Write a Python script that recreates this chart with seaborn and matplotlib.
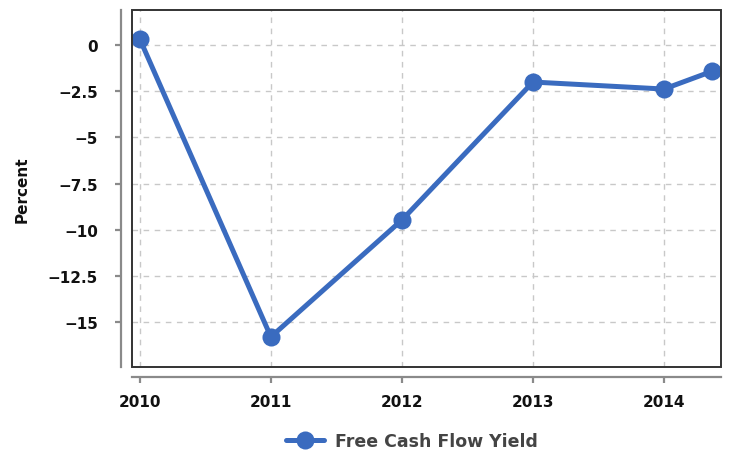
import matplotlib
matplotlib.use("Agg")
import matplotlib.pyplot as plt
import seaborn as sns
import pandas as pd
from matplotlib.patches import Rectangle
from matplotlib.lines import Line2D

years = [2010.0, 2011.0, 2012.0, 2013.0, 2014.0, 2014.37]
fcf_yield = [0.32, -15.8, -9.47, -2.0, -2.38, -1.41]
x_ticks = [2010, 2011, 2012, 2013, 2014]
y_ticks = [0, -2.5, -5, -7.5, -10, -12.5, -15]
y_tick_labels = ["0", "\u22122.5", "\u22125", "\u22127.5", "\u221210", "\u221212.5", "\u221215"]
series_name = "Free Cash Flow Yield"

df = pd.DataFrame({"year": years, "value": fcf_yield, "series": series_name})

sns.set_theme(style="white")
plt.rcParams['font.family'] = ['DejaVu Sans']

fig = plt.figure(figsize=(7.29, 4.52), dpi=100)
ax = fig.add_axes([132/729, (452-368)/452, (721-132)/729, (368-11)/452])

color = "#3a6bbf"
sns.lineplot(data=df, x="year", y="value", hue="series", palette=[color],
             marker="o", markersize=13, linewidth=3.6, markeredgewidth=0,
             ax=ax, legend=False)

ax.set_xlim(2009.94, 2014.435)
ax.set_ylim(-17.43, 1.9)
ax.set_xticks(x_ticks)
ax.set_xticklabels([str(t) for t in x_ticks])
ax.set_yticks(y_ticks)
ax.set_yticklabels(y_tick_labels)

ax.grid(True, color="#c8c8c8", linestyle=(0, (4, 4)), linewidth=1)
ax.set_axisbelow(True)

for s in ["top", "right"]:
    ax.spines[s].set_visible(False)
for s in ["left", "bottom"]:
    ax.spines[s].set_visible(True)
    ax.spines[s].set_color("#8a8a8a")
    ax.spines[s].set_linewidth(1.6)
ax.spines["left"].set_position(("outward", 7.9))
ax.spines["bottom"].set_position(("outward", 7.2))

ax.add_patch(Rectangle((0, 0), 1, 1, transform=ax.transAxes, fill=False,
                       edgecolor="#333333", linewidth=1.4, zorder=5, clip_on=False))

ax.tick_params(axis="both", which="both", bottom=True, left=True, length=4.5,
               width=1.6, color="#8a8a8a", labelsize=11, labelcolor="#111111")
ax.tick_params(axis="x", pad=7.5)
ax.tick_params(axis="y", pad=12)
for lab in ax.get_xticklabels() + ax.get_yticklabels():
    lab.set_fontweight("bold")

ax.set_xlabel("")
ax.set_ylabel("Percent", fontsize=11, fontweight="bold", color="#111111")
ax.yaxis.set_label_coords((30 - 132) / 589, 0.5)

h = Line2D([], [], color=color, linewidth=3.6, marker="o", markersize=13, markeredgewidth=0)
fig.legend([h], [series_name], loc="center", bbox_to_anchor=(412/729, 1 - 442/452),
           frameon=False, labelcolor="#444444", handlelength=2.2, handletextpad=0.6,
           prop={"weight": "bold", "size": 12.5})

fig.savefig("out.png", dpi=100)
